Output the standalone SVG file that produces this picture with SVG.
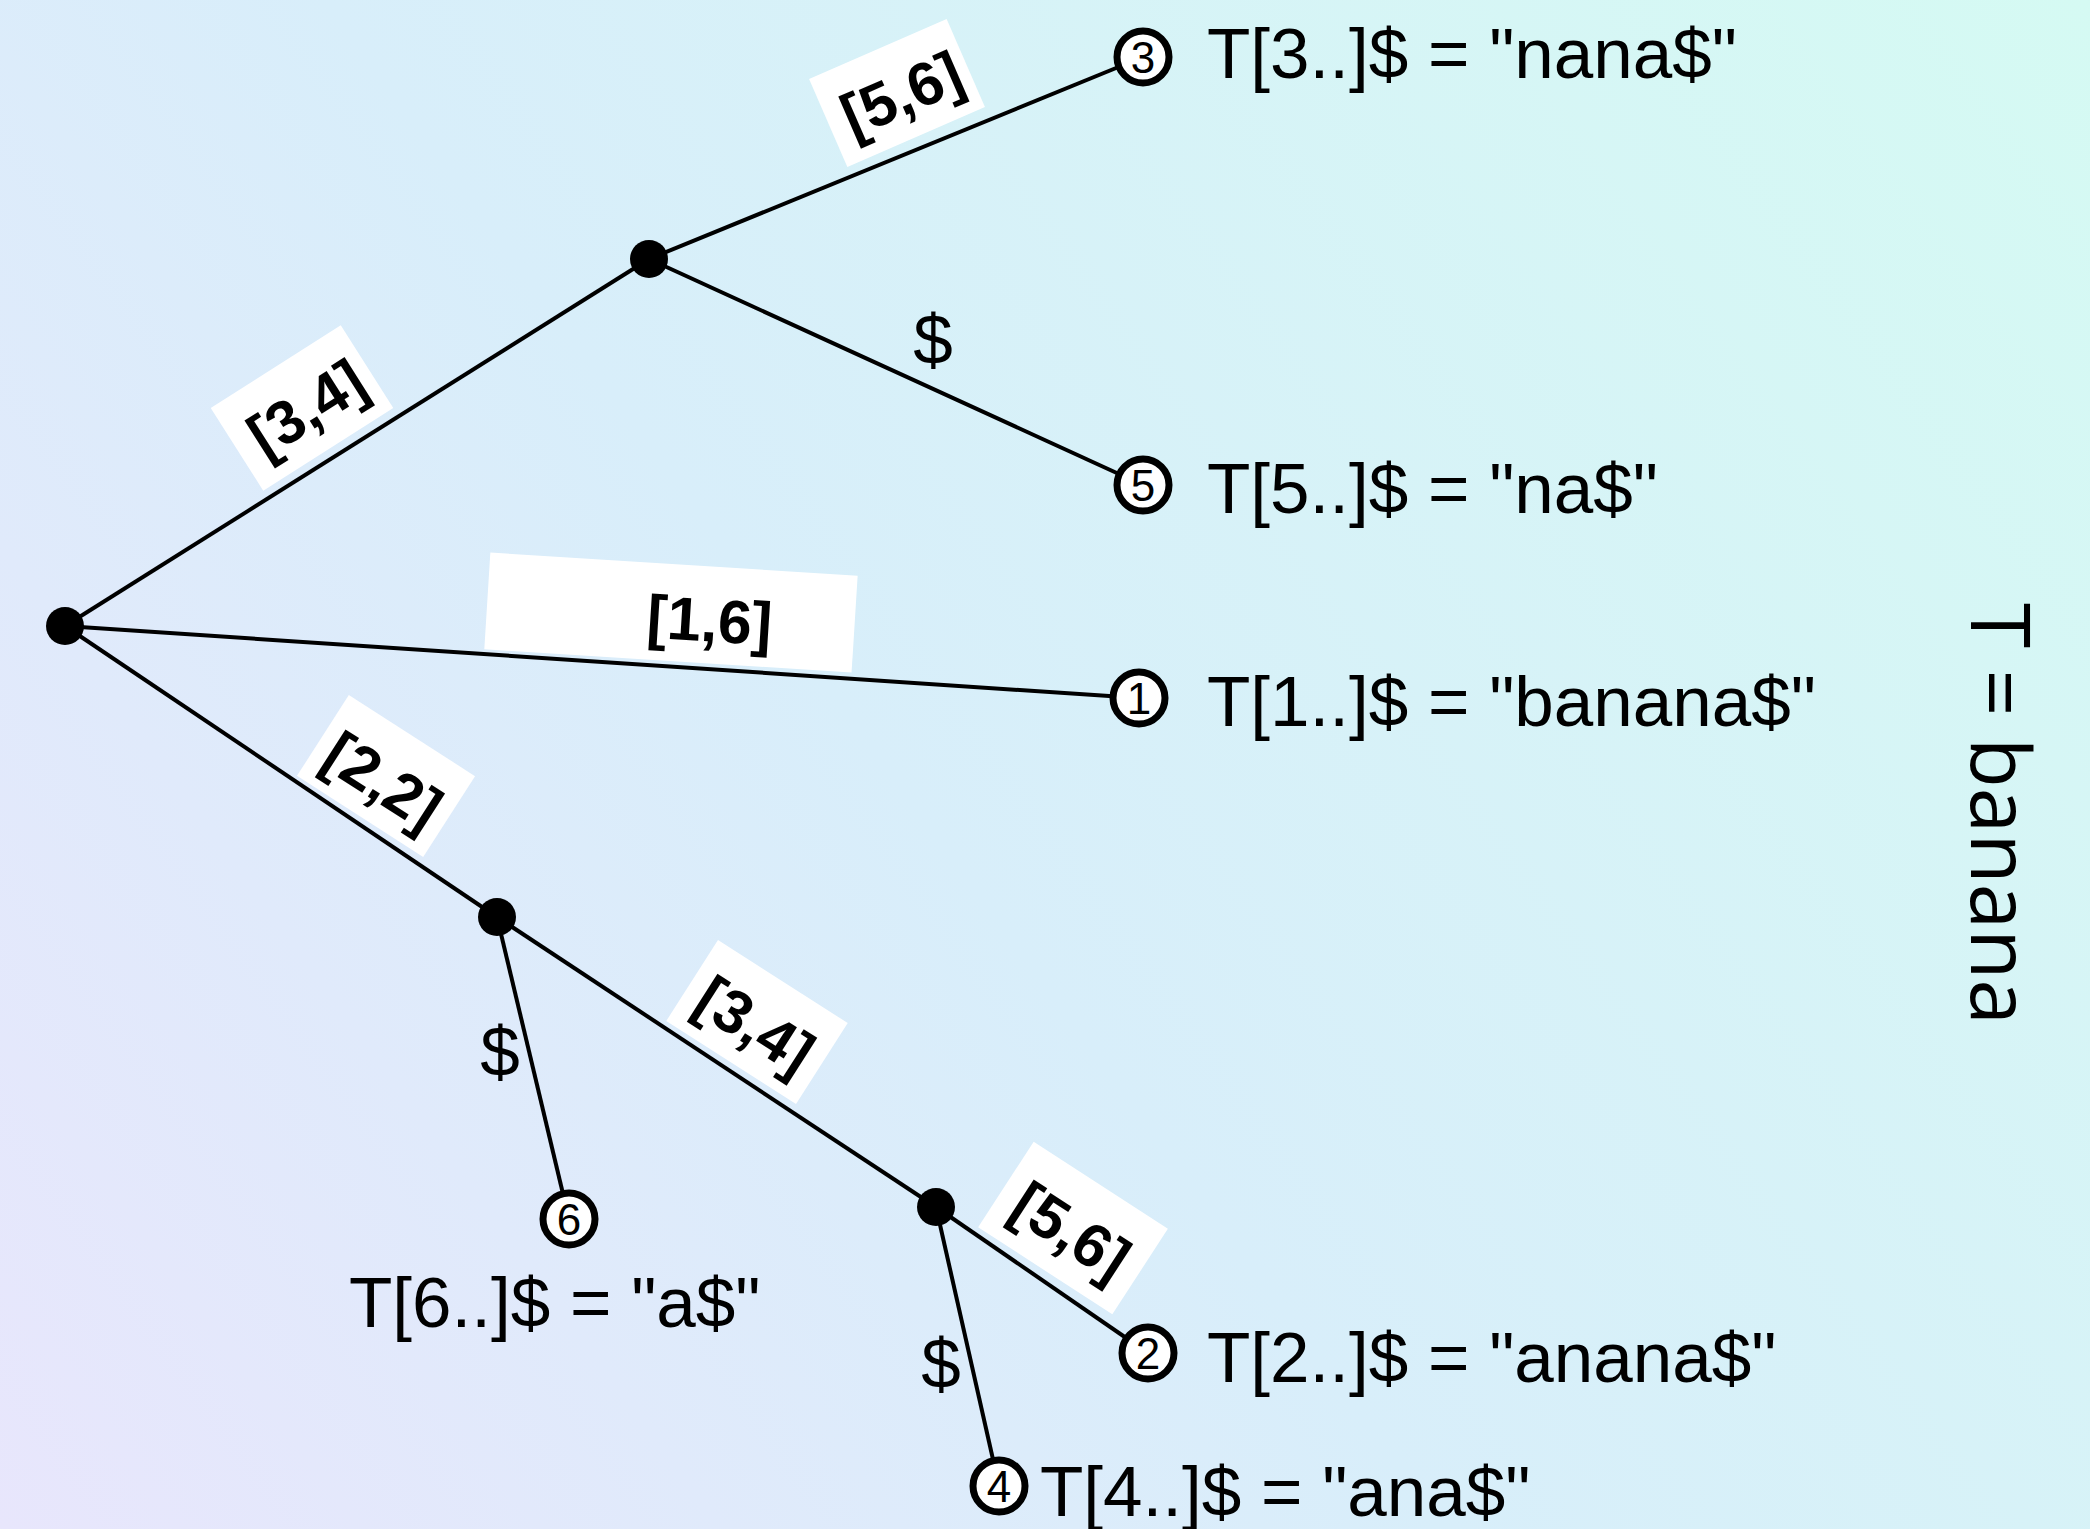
<svg xmlns="http://www.w3.org/2000/svg" width="2090" height="1529" viewBox="0 0 2090 1529">
  <defs>
    <linearGradient id="bg" gradientUnits="userSpaceOnUse" x1="0" y1="1529" x2="2090" y2="0">
      <stop offset="0" stop-color="#e8e6fc"/>
      <stop offset="0.45" stop-color="#d8eefa"/>
      <stop offset="1" stop-color="#d5faf3"/>
    </linearGradient>
    <style>
      .edge { stroke: #000; stroke-width: 4; fill: none; }
      .inner { fill: #000; }
      .leaf { fill: #fff; stroke: #000; stroke-width: 7; }
      .num { font-family: "Liberation Sans", Arial, sans-serif; font-size: 44px; text-anchor: middle; fill: #000; }
      .suffix { font-family: "Liberation Sans", Arial, sans-serif; font-size: 71px; fill: #000; }
      .lblbox { fill: #fff; }
      .lbl { font-family: "Liberation Sans", Arial, sans-serif; font-size: 61px; font-weight: bold; text-anchor: middle; fill: #000; }
      .dollar { font-family: "Liberation Sans", Arial, sans-serif; font-size: 71px; text-anchor: middle; fill: #000; }
      .title { font-family: "Open Sans", "Liberation Sans", sans-serif; font-size: 82px; fill: #000; }
    </style>
  </defs>

  <rect x="0" y="0" width="2090" height="1529" fill="url(#bg)"/>

  <!-- tree edges -->
  <g id="connectors">
    <line class="edge" x1="65" y1="626" x2="649" y2="259"/>
    <line class="edge" x1="65" y1="626" x2="1139" y2="698"/>
    <line class="edge" x1="65" y1="626" x2="497" y2="917"/>
    <line class="edge" x1="649" y1="259" x2="1143" y2="57"/>
    <line class="edge" x1="649" y1="259" x2="1143" y2="485"/>
    <line class="edge" x1="497" y1="917" x2="569" y2="1219"/>
    <line class="edge" x1="497" y1="917" x2="936" y2="1207"/>
    <line class="edge" x1="936" y1="1207" x2="1148" y2="1353"/>
    <line class="edge" x1="936" y1="1207" x2="999" y2="1486"/>
  </g>

  <!-- edge labels -->
  <g id="edge-labels">
    <g transform="translate(302,408) rotate(-32.4)">
      <rect class="lblbox" x="-77" y="-49" width="154" height="98"/>
      <text class="lbl" x="4" y="24">[3,4]</text>
    </g>
    <g transform="translate(897,93) rotate(-23.5)">
      <rect class="lblbox" x="-75" y="-48" width="150" height="96"/>
      <text class="lbl" x="4" y="24">[5,6]</text>
    </g>
    <g transform="translate(671,612) rotate(3.6)">
      <rect class="lblbox" x="-184" y="-48" width="368" height="97"/>
      <text class="lbl" x="39" y="27">[1,6]</text>
    </g>
    <g transform="translate(386,776) rotate(32.7)">
      <rect class="lblbox" x="-75" y="-48" width="150" height="96"/>
      <text class="lbl" x="0" y="27">[2,2]</text>
    </g>
    <g transform="translate(757,1022) rotate(32.6)">
      <rect class="lblbox" x="-77" y="-48" width="154" height="96"/>
      <text class="lbl" x="0" y="25">[3,4]</text>
    </g>
    <g transform="translate(1073,1228) rotate(33)">
      <rect class="lblbox" x="-80" y="-51" width="160" height="102"/>
      <text class="lbl" x="0" y="25">[5,6]</text>
    </g>
    <text class="dollar" x="933" y="364">$</text>
    <text class="dollar" x="500" y="1076">$</text>
    <text class="dollar" x="941" y="1388">$</text>
  </g>

  <!-- internal nodes -->
  <g id="root"><circle class="inner" cx="65" cy="626" r="19"/></g>
  <g id="node-a"><circle class="inner" cx="649" cy="259" r="19"/></g>
  <g id="node-an"><circle class="inner" cx="497" cy="917" r="19"/></g>
  <g id="node-ana"><circle class="inner" cx="936" cy="1207" r="19"/></g>

  <!-- leaves: suffix start positions -->
  <g id="leaf-3">
    <circle class="leaf" cx="1143" cy="57" r="26"/>
    <text class="num" x="1143" y="73">3</text>
    <text class="suffix" x="1207" y="78">T[3..]$ = "nana$"</text>
  </g>
  <g id="leaf-5">
    <circle class="leaf" cx="1143" cy="485" r="26"/>
    <text class="num" x="1143" y="501">5</text>
    <text class="suffix" x="1207" y="513">T[5..]$ = "na$"</text>
  </g>
  <g id="leaf-1">
    <circle class="leaf" cx="1139" cy="698" r="26"/>
    <text class="num" x="1139" y="714">1</text>
    <text class="suffix" x="1207" y="726">T[1..]$ = "banana$"</text>
  </g>
  <g id="leaf-6">
    <circle class="leaf" cx="569" cy="1219" r="26"/>
    <text class="num" x="569" y="1235">6</text>
    <text class="suffix" x="349" y="1327">T[6..]$ = "a$"</text>
  </g>
  <g id="leaf-2">
    <circle class="leaf" cx="1148" cy="1353" r="26"/>
    <text class="num" x="1148" y="1369">2</text>
    <text class="suffix" x="1207" y="1382">T[2..]$ = "anana$"</text>
  </g>
  <g id="leaf-4">
    <circle class="leaf" cx="999" cy="1486" r="26"/>
    <text class="num" x="999" y="1502">4</text>
    <text class="suffix" x="1040" y="1516">T[4..]$ = "ana$"</text>
  </g>

  <g id="title">
    <text class="title" transform="translate(1971,603) rotate(90)">T = banana</text>
  </g>
</svg>
